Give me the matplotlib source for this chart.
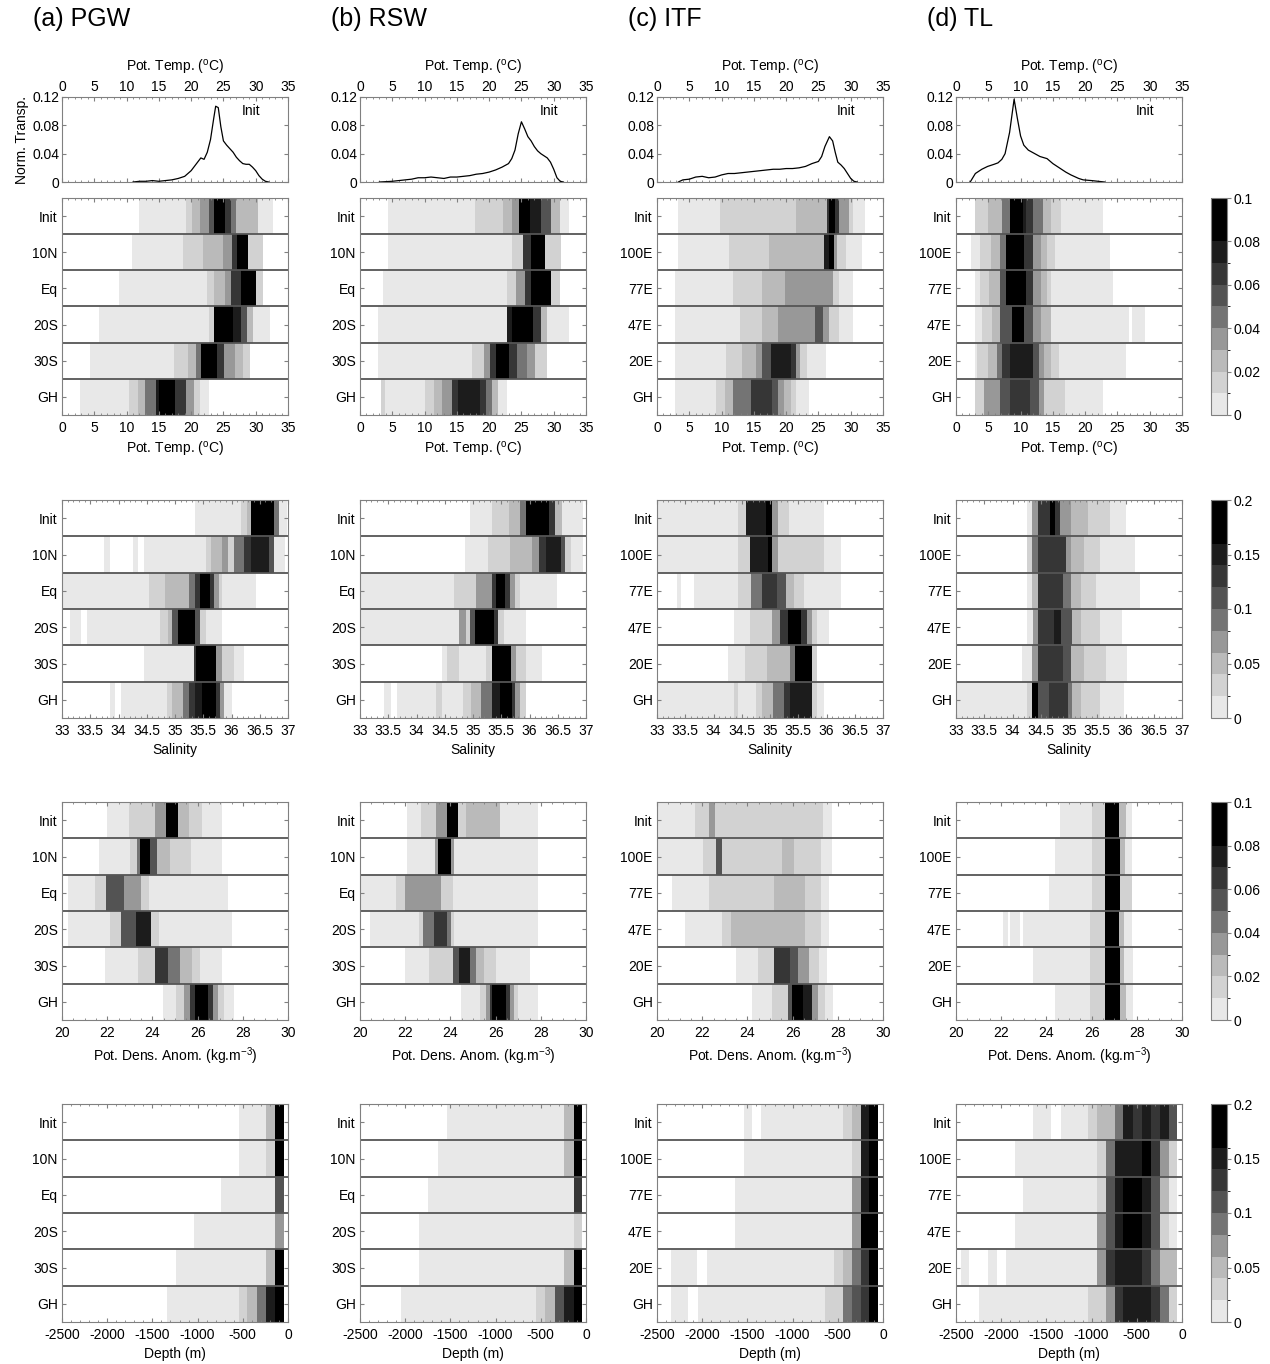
import numpy as np
import matplotlib
matplotlib.use('Agg')
import matplotlib.pyplot as plt
from matplotlib.colors import ListedColormap, BoundaryNorm
from matplotlib.cm import ScalarMappable
from matplotlib.ticker import MultipleLocator

plt.rcParams['font.family'] = ['Liberation Sans', 'DejaVu Sans']
plt.rcParams['mathtext.fontset'] = 'custom'
plt.rcParams['mathtext.rm'] = 'Liberation Sans'
plt.rcParams['mathtext.it'] = 'Liberation Sans:italic'
plt.rcParams['axes.unicode_minus'] = False

N = float('nan')

# ---------------- data ----------------
TITLES = ['(a) PGW', '(b) RSW', '(c) ITF', '(d) TL']
ROWS_PGW = ['Init', '10N', 'Eq', '20S', '30S', 'GH']
ROWS_ITF = ['Init', '100E', '77E', '47E', '20E', 'GH']

# Init normalized transport vs potential temperature (top line plots)
PGW_LINE_T = [11, 12, 13, 14, 15, 16, 17, 18, 19, 19.5, 20, 20.5, 21, 21.5, 22, 22.5, 23, 23.5, 23.8,
              24.2, 24.6, 25, 25.5, 26, 26.5, 27, 27.5, 28, 28.5, 29, 29.5, 30, 30.5, 31, 31.5, 32]
PGW_LINE_V = [0, 0.001, 0.001, 0.002, 0.001, 0.002, 0.003, 0.005, 0.008, 0.012, 0.016, 0.022, 0.028,
              0.034, 0.032, 0.042, 0.06, 0.09, 0.107, 0.105, 0.078, 0.058, 0.052, 0.047, 0.042, 0.035,
              0.03, 0.026, 0.025, 0.025, 0.021, 0.016, 0.009, 0.004, 0.001, 0]
RSW_LINE_T = [3, 4, 5, 6, 7, 8, 9, 10, 11, 12, 13, 14, 15, 16, 17, 18, 19, 20, 21, 22, 23, 23.5, 24,
              24.5, 25, 25.5, 26, 26.5, 27, 27.5, 28, 28.5, 29, 29.5, 30, 30.5, 31, 31.5]
RSW_LINE_V = [0, 0.0005, 0.001, 0.002, 0.003, 0.004, 0.006, 0.006, 0.007, 0.006, 0.005, 0.007, 0.007,
              0.008, 0.009, 0.011, 0.012, 0.014, 0.017, 0.021, 0.026, 0.033, 0.045, 0.068, 0.085,
              0.075, 0.064, 0.058, 0.05, 0.044, 0.04, 0.037, 0.034, 0.028, 0.018, 0.006, 0.001, 0]
ITF_LINE_T = [3.3, 4, 5, 6, 7, 8, 9, 10, 11, 12, 13, 14, 15, 16, 17, 18, 19, 20, 21, 22, 23, 24, 25,
              25.5, 26, 26.7, 27.2, 27.6, 28, 28.5, 29, 29.5, 30, 30.5, 31]
ITF_LINE_V = [0, 0.003, 0.004, 0.007, 0.008, 0.006, 0.007, 0.01, 0.012, 0.012, 0.013, 0.014, 0.015,
              0.016, 0.017, 0.018, 0.018, 0.019, 0.019, 0.02, 0.022, 0.026, 0.029, 0.036, 0.05, 0.064,
              0.058, 0.042, 0.028, 0.024, 0.019, 0.012, 0.005, 0.001, 0]
TL_LINE_T = [2.2, 3, 4, 4.9, 5.9, 6.5, 7.1, 7.6, 8.3, 9.0, 9.5, 10.0, 10.5, 11.2, 12.2, 13, 14.1, 15,
             16, 17, 17.8, 19, 19.7, 21, 22, 23]
TL_LINE_V = [0, 0.012, 0.018, 0.022, 0.025, 0.027, 0.032, 0.04, 0.07, 0.117, 0.09, 0.065, 0.052, 0.045,
             0.04, 0.036, 0.033, 0.026, 0.02, 0.014, 0.01, 0.005, 0.003, 0.002, 0.001, 0]

# Heatmap rows: (bin edges, normalized transport per bin); NaN = no transport
PGW_TEMP = [
    ([11.9, 19.2, 20.2, 21.4, 22.7, 23.6, 25.2, 26.2, 27.0, 30.3, 32.7], [.005, .015, .025, .035, .055, .09, .065, .045, .025, .005]),
    ([10.9, 18.8, 21.9, 24.9, 26.3, 27.1, 28.8, 31.2], [.005, .015, .025, .035, .065, .09, .015]),
    ([8.8, 22.4, 23.6, 25.2, 26.2, 27.7, 30.0, 31.2], [.005, .015, .025, .035, .065, .09, .015]),
    ([5.8, 22.8, 23.6, 26.5, 27.7, 28.7, 29.6, 32.2], [.005, .015, .09, .075, .055, .025, .005]),
    ([4.4, 17.3, 19.5, 20.7, 21.6, 24.0, 25.1, 26.8, 28.1, 29.1], [.005, .015, .025, .045, .09, .065, .035, .025, .015]),
    ([2.8, 10.4, 11.7, 12.9, 14.5, 15.0, 17.5, 19.2, 20.5, 21.4, 22.7], [.005, .015, .025, .045, .075, .09, .065, .035, .015, .005]),
]
RSW_TEMP = [
    ([4.4, 17.8, 22.2, 23.6, 24.6, 26.4, 28.1, 29.6, 31.0, 32.3], [.005, .015, .025, .035, .09, .075, .055, .025, .005]),
    ([4.4, 23.6, 25.2, 26.5, 28.7, 31.2], [.005, .015, .065, .09, .015]),
    ([3.5, 22.7, 24.1, 25.5, 26.5, 29.6, 31.0], [.005, .015, .035, .065, .09, .015]),
    ([2.8, 22.7, 23.6, 26.8, 28.1, 28.9, 32.3], [.005, .075, .09, .065, .025, .005]),
    ([2.8, 17.3, 19.2, 20.2, 21.1, 23.0, 24.3, 25.9, 27.1, 29.0], [.005, .015, .035, .065, .09, .065, .045, .035, .015]),
    ([3.2, 3.8, 10.1, 11.4, 12.7, 14.2, 15.1, 18.6, 19.5, 20.5, 21.4, 22.7], [.015, .005, .015, .025, .035, .065, .075, .065, .045, .025, .005]),
]
ITF_TEMP = [
    ([3.3, 9.7, 21.6, 26.3, 26.7, 27.6, 28.2, 29.8, 30.3, 32.2], [.005, .015, .025, .065, .09, .065, .035, .015, .005]),
    ([3.3, 11.2, 17.3, 25.9, 26.7, 27.4, 27.9, 29.2, 31.7], [.005, .015, .025, .075, .09, .035, .015, .005]),
    ([2.8, 11.8, 16.2, 19.8, 27.3, 28.2, 30.3], [.005, .015, .025, .035, .015, .005]),
    ([2.8, 12.8, 16.2, 18.8, 24.4, 25.7, 26.7, 28.2, 30.3], [.005, .015, .025, .035, .055, .035, .015, .005]),
    ([2.8, 10.7, 13.1, 15.3, 16.2, 17.7, 20.7, 21.5, 22.1, 23.2, 26.2], [.005, .015, .025, .035, .055, .075, .065, .035, .015, .005]),
    ([2.8, 9.1, 10.5, 11.8, 14.5, 17.8, 18.8, 19.7, 20.7, 21.6, 23.5], [.005, .015, .025, .045, .065, .055, .035, .025, .015, .005]),
]
TL_TEMP = [
    ([3.0, 4.9, 7.1, 8.4, 10.3, 10.8, 11.9, 13.4, 14.7, 16.3, 22.8], [.015, .025, .045, .09, .075, .065, .045, .025, .015, .005]),
    ([2.4, 3.7, 5.4, 6.8, 7.8, 10.6, 11.9, 13.2, 14.1, 15.3, 23.8], [.005, .015, .025, .045, .09, .065, .035, .025, .015, .005]),
    ([3.0, 3.7, 5.1, 6.8, 7.8, 10.8, 11.9, 13.2, 14.1, 14.7, 24.3], [.005, .015, .025, .055, .09, .065, .035, .025, .015, .005]),
    ([3.0, 4.0, 5.5, 6.8, 8.7, 10.6, 11.9, 13.2, 14.7, 26.8, 27.3, 29.3], [.005, .015, .025, .055, .09, .055, .035, .025, .005, N, .005]),
    ([3.0, 3.3, 4.9, 6.3, 7.1, 8.4, 11.9, 12.8, 13.7, 14.7, 16.0, 26.4], [.005, .015, .025, .045, .065, .075, .055, .035, .025, .015, .005]),
    ([3.0, 4.3, 6.8, 8.4, 11.5, 12.8, 13.7, 16.9, 22.8], [.015, .035, .055, .065, .055, .035, .015, .005]),
]

PGW_SAL = [
    ([35.36, 36.16, 36.27, 36.34, 36.75, 36.84, 36.99], [.01, .03, .05, .18, .09, .01]),
    ([33.75, 33.85, 34.26, 34.35, 34.45, 35.55, 35.64, 35.84, 35.94, 36.04, 36.23, 36.34, 36.66, 36.75, 36.95],
     [.01, N, .01, N, .01, .03, .05, .07, .03, .09, .13, .15, .11, .01]),
    ([33.0, 34.54, 34.83, 35.24, 35.36, 35.44, 35.62, 35.69, 35.77, 35.84, 36.43], [.01, .03, .05, .09, .13, .18, .13, .07, .03, .01]),
    ([33.14, 33.34, 33.45, 34.74, 34.87, 34.94, 35.05, 35.36, 35.44, 35.55, 35.84], [.01, N, .01, .03, .05, .11, .18, .11, .03, .01]),
    ([34.45, 35.33, 35.37, 35.73, 35.84, 36.05, 36.23], [.01, .13, .18, .07, .03, .01]),
    ([33.85, 33.93, 34.05, 34.85, 34.95, 35.15, 35.24, 35.36, 35.48, 35.73, 35.80, 35.87, 36.0],
     [.01, N, .01, .03, .05, .09, .13, .15, .18, .13, .07, .01]),
]
RSW_SAL = [
    ([34.95, 35.33, 35.64, 35.84, 35.94, 36.34, 36.45, 36.58, 36.95], [.01, .03, .05, .09, .18, .13, .05, .01]),
    ([34.85, 35.26, 35.66, 36.05, 36.16, 36.30, 36.55, 36.62, 36.73, 36.95], [.01, .03, .05, .07, .13, .15, .11, .03, .01]),
    ([33.0, 34.67, 35.05, 35.33, 35.41, 35.57, 35.66, 35.75, 35.84, 36.48], [.01, .03, .07, .13, .18, .13, .07, .03, .01]),
    ([33.0, 34.76, 34.87, 34.94, 35.03, 35.37, 35.44, 35.55, 35.94], [.01, .07, .03, .11, .18, .13, .03, .01]),
    ([34.45, 34.54, 34.76, 35.23, 35.33, 35.67, 35.76, 35.94, 36.23], [.01, .03, .01, .03, .18, .07, .03, .01]),
    ([33.43, 33.54, 33.65, 34.35, 34.45, 34.83, 34.97, 35.15, 35.33, 35.48, 35.69, 35.74, 35.84, 35.94],
     [.01, N, .01, .03, .01, .03, .05, .09, .15, .18, .13, .07, .03]),
]
ITF_SAL = [
    ([33.0, 34.44, 34.57, 34.93, 35.04, 35.14, 35.34, 35.96], [.01, .03, .15, .18, .07, .03, .01]),
    ([33.0, 34.44, 34.65, 34.97, 35.04, 35.14, 35.96, 36.25], [.01, .03, .15, .18, .07, .03, .01]),
    ([33.36, 33.43, 33.66, 34.44, 34.66, 34.86, 35.12, 35.29, 35.43, 35.61, 36.25], [.01, N, .01, .03, .09, .13, .11, .05, .03, .01]),
    ([34.37, 34.64, 35.04, 35.17, 35.32, 35.54, 35.65, 35.74, 35.83, 36.05], [.01, .03, .07, .13, .18, .13, .07, .03, .01]),
    ([34.26, 34.55, 34.95, 35.36, 35.45, 35.74, 35.83], [.01, .03, .05, .09, .18, .03]),
    ([33.0, 34.37, 34.44, 34.75, 34.86, 35.05, 35.24, 35.36, 35.74, 35.83, 35.96], [.01, .03, .01, .03, .05, .09, .13, .15, .03, .01]),
]
TL_SAL = [
    ([34.26, 34.35, 34.46, 34.66, 34.75, 34.84, 35.04, 35.33, 35.72, 36.01], [.01, .07, .13, .18, .13, .07, .05, .03, .01]),
    ([34.25, 34.35, 34.46, 34.95, 35.04, 35.26, 35.54, 36.16], [.03, .09, .13, .07, .05, .03, .01]),
    ([34.26, 34.35, 34.46, 34.9, 35.04, 35.22, 35.47, 36.25], [.01, .05, .13, .09, .05, .03, .01]),
    ([34.26, 34.37, 34.46, 34.74, 34.86, 35.05, 35.22, 35.54, 35.94], [.01, .07, .13, .15, .11, .05, .03, .01]),
    ([34.16, 34.35, 34.46, 34.9, 35.04, 35.26, 35.65, 36.03], [.01, .07, .13, .11, .05, .03, .01]),
    ([33.0, 34.25, 34.35, 34.45, 34.64, 34.98, 35.05, 35.22, 35.54, 35.98], [.01, .03, .18, .11, .13, .09, .05, .03, .01]),
]

PGW_DENS = [
    ([21.97, 22.96, 24.13, 24.58, 25.12, 25.6, 26.2, 27.1], [.005, .015, .035, .09, .025, .015, .005]),
    ([21.65, 23.0, 23.3, 23.45, 23.91, 24.2, 24.8, 25.7, 27.1], [.005, .015, .045, .09, .055, .025, .015, .005]),
    ([20.27, 21.44, 21.94, 22.73, 23.5, 23.86, 27.33], [.005, .015, .055, .035, .015, .005]),
    ([20.27, 22.12, 22.6, 23.27, 23.95, 24.3, 27.5], [.005, .015, .055, .075, .015, .005]),
    ([21.9, 23.37, 24.13, 24.7, 25.2, 25.75, 26.1, 27.1], [.005, .015, .065, .045, .025, .015, .005]),
    ([24.45, 25.03, 25.39, 25.66, 25.89, 26.46, 26.68, 26.91, 27.18, 27.6], [.005, .015, .035, .065, .09, .065, .035, .015, .005]),
]
RSW_DENS = [
    ([22.06, 22.69, 23.37, 23.86, 24.34, 24.67, 26.19, 27.86], [.005, .015, .035, .09, .015, .025, .005]),
    ([22.06, 23.32, 23.45, 24.04, 24.16, 27.86], [.005, .035, .09, .035, .005]),
    ([20.0, 21.6, 21.97, 23.59, 24.13, 27.86], [.005, .015, .035, .015, .005]),
    ([20.45, 22.6, 22.78, 23.27, 23.86, 24.04, 24.16, 27.86], [.005, .015, .045, .065, .045, .015, .005]),
    ([21.97, 23.05, 24.13, 24.4, 24.85, 25.12, 25.48, 26.0, 27.5], [.005, .015, .055, .075, .045, .025, .015, .005]),
    ([24.49, 25.3, 25.57, 25.75, 25.84, 26.46, 26.64, 26.82, 27.0, 27.86], [.005, .015, .035, .065, .09, .065, .035, .015, .005]),
]
ITF_DENS = [
    ([20.0, 21.66, 22.29, 22.56, 27.35, 27.76], [.005, .015, .035, .015, .005]),
    ([20.0, 22.02, 22.6, 22.89, 25.54, 26.08, 27.26, 27.76], [.005, .015, .055, .015, .025, .015, .005]),
    ([20.67, 22.29, 25.18, 26.53, 27.26, 27.62], [.005, .015, .025, .015, .005]),
    ([21.26, 22.89, 23.29, 26.53, 27.26, 27.62], [.005, .015, .025, .015, .005]),
    ([23.5, 24.46, 25.18, 25.9, 26.26, 26.71, 27.17, 27.53], [.005, .015, .065, .055, .035, .015, .005]),
    ([24.19, 25.09, 25.81, 25.99, 26.44, 26.86, 27.11, 27.44, 27.8], [.005, .015, .055, .09, .075, .035, .015, .005]),
]
TL_DENS = [
    ([24.59, 26.0, 26.58, 27.23, 27.53, 27.8], [.005, .015, .09, .025, .005]),
    ([24.38, 26.0, 26.58, 27.26, 27.48, 27.77], [.005, .015, .09, .025, .005]),
    ([24.1, 26.0, 26.58, 27.26, 27.8], [.005, .015, .09, .015]),
    ([22.07, 22.3, 22.39, 22.84, 22.97, 25.91, 26.58, 27.23, 27.44, 27.77], [.005, N, .005, N, .005, .015, .09, .025, .005]),
    ([23.39, 25.91, 26.58, 27.26, 27.44, 27.84], [.005, .015, .09, .025, .005]),
    ([24.38, 25.91, 26.58, 27.26, 27.53, 27.84], [.005, .015, .09, .025, .005]),
]

PGW_DEPTH = [
    ([-540, -248, -149, -45], [.01, .05, .18]),
    ([-540, -248, -149, -45], [.01, .03, .18]),
    ([-743, -149, -45], [.01, .11]),
    ([-1036, -149, -45], [.01, .07]),
    ([-1239, -248, -149, -45], [.01, .05, .18]),
    ([-1338, -540, -450, -347, -248, -149, -45], [.01, .03, .05, .09, .15, .18]),
]
RSW_DEPTH = [
    ([-1541, -248, -135, -45], [.01, .05, .18]),
    ([-1635, -248, -135, -45], [.01, .05, .18]),
    ([-1743, -135, -45], [.01, .13]),
    ([-1847, -135, -45], [.01, .03]),
    ([-1847, -248, -135, -45], [.01, .05, .18]),
    ([-2050, -554, -450, -347, -248, -135, -45], [.01, .03, .05, .11, .15, .18]),
]
ITF_DEPTH = [
    ([-1542, -1454, -1347, -437, -345, -246, -154, -51], [.01, N, .01, .03, .05, .15, .18]),
    ([-1542, -345, -246, -154, -51], [.01, .03, .15, .18]),
    ([-1637, -345, -246, -154, -51], [.01, .07, .15, .18]),
    ([-1637, -345, -246, -51], [.01, .07, .18]),
    ([-2350, -2052, -1946, -547, -437, -345, -246, -154, -51], [.01, N, .01, .03, .05, .09, .13, .18]),
    ([-2350, -2155, -2041, -642, -448, -345, -246, -154, -51], [.01, N, .01, .03, .09, .11, .13, .18]),
]
TL_DEPTH = [
    ([-1645, -1449, -1342, -1036, -944, -741, -649, -538, -446, -347, -243, -140, -52],
     [.01, N, .01, .03, .05, .09, .15, .13, .15, .13, .15, .11]),
    ([-1847, -944, -844, -741, -446, -347, -243, -140, -52], [.01, .03, .09, .15, .18, .13, .07, .03]),
    ([-1755, -944, -844, -741, -649, -446, -347, -243, -140, -52], [.01, .03, .11, .15, .18, .15, .11, .05, .01]),
    ([-1847, -944, -844, -741, -649, -446, -347, -243, -140, -52], [.01, .07, .11, .15, .18, .15, .11, .03, .01]),
    ([-2448, -2352, -2150, -2050, -1951, -944, -844, -741, -446, -347, -243, -140, -52],
     [.01, N, .01, N, .01, .07, .13, .15, .13, .09, .05, .05]),
    ([-2242, -1036, -844, -741, -649, -347, -243, -140, -52], [.01, .03, .07, .13, .15, .13, .09, .03]),
]

BOUNDS_01 = [0, .01, .02, .03, .04, .05, .06, .07, .08, .10]
BOUNDS_02 = [0, .02, .04, .06, .08, .10, .12, .14, .16, .20]
CB_TICKS_01 = [0, 0.02, 0.04, 0.06, 0.08, 0.1]
CB_TICKS_02 = [0, 0.05, 0.1, 0.15, 0.2]

# ---------------- styling ----------------
GRAYS = ['#e8e8e8', '#d2d2d2', '#bababa', '#989898', '#747474', '#535353', '#363636', '#1c1c1c', '#000000']
cmap = ListedColormap(GRAYS)
SPINE = '#808080'

W, H = 1270, 1364
fig = plt.figure(figsize=(W / 100, H / 100), dpi=100)
fig.patch.set_facecolor('white')


def rect(x0, y0, x1, y1):
    return [x0 / W, 1 - y1 / H, (x1 - x0) / W, (y1 - y0) / H]


COL_X = [62, 360, 657, 956]
COL_W = 226
LINE_Y = (97, 182)
HEAT_Y = [(198, 415), (500, 718), (802, 1020), (1104, 1322)]
CB_X = (1211, 1227)

VARS = [
    dict(xlim=(0, 35), minor=1, label='Pot. Temp. ($^{\\rm o}$C)', bounds=BOUNDS_01, ticks=CB_TICKS_01,
         ticklabels=[str(v) for v in range(0, 40, 5)], tickvals=list(range(0, 40, 5))),
    dict(xlim=(33, 37), minor=0.1, label='Salinity', bounds=BOUNDS_02, ticks=CB_TICKS_02,
         tickvals=[33, 33.5, 34, 34.5, 35, 35.5, 36, 36.5, 37],
         ticklabels=['33', '33.5', '34', '34.5', '35', '35.5', '36', '36.5', '37']),
    dict(xlim=(20, 30), minor=0.5, label='Pot. Dens. Anom. (kg.m$^{-3}$)', bounds=BOUNDS_01, ticks=CB_TICKS_01,
         tickvals=[20, 22, 24, 26, 28, 30], ticklabels=['20', '22', '24', '26', '28', '30']),
    dict(xlim=(-2500, 0), minor=100, label='Depth (m)', bounds=BOUNDS_02, ticks=CB_TICKS_02,
         tickvals=[-2500, -2000, -1500, -1000, -500, 0],
         ticklabels=['-2500', '-2000', '-1500', '-1000', '-500', '0']),
]

COLUMNS = [
    (PGW_LINE_T, PGW_LINE_V, [PGW_TEMP, PGW_SAL, PGW_DENS, PGW_DEPTH], ROWS_PGW),
    (RSW_LINE_T, RSW_LINE_V, [RSW_TEMP, RSW_SAL, RSW_DENS, RSW_DEPTH], ROWS_PGW),
    (ITF_LINE_T, ITF_LINE_V, [ITF_TEMP, ITF_SAL, ITF_DENS, ITF_DEPTH], ROWS_ITF),
    (TL_LINE_T, TL_LINE_V, [TL_TEMP, TL_SAL, TL_DENS, TL_DEPTH], ROWS_ITF),
]

FS = 10


def style_spines(ax):
    for s in ax.spines.values():
        s.set_color(SPINE)
        s.set_linewidth(0.8)


for c, (lt, lv, panels, rowlabels) in enumerate(COLUMNS):
    x0 = COL_X[c]
    fig.text((x0 - 29) / W, 1 - 19 / H, TITLES[c], fontsize=18, va='center', ha='left')

    # top line plot
    ax = fig.add_axes(rect(x0, LINE_Y[0], x0 + COL_W, LINE_Y[1]))
    ax.plot(lt, lv, color='black', lw=0.9)
    ax.set_xlim(0, 35)
    ax.set_ylim(0, 0.12)
    ax.xaxis.tick_top()
    ax.xaxis.set_label_position('top')
    ax.set_xticks(range(0, 40, 5))
    ax.xaxis.set_minor_locator(MultipleLocator(1))
    ax.set_yticks([0, 0.04, 0.08, 0.12])
    ax.set_yticklabels(['0', '0.04', '0.08', '0.12'])
    ax.tick_params(axis='x', which='both', direction='in', top=True, bottom=True, colors=SPINE,
                   labelcolor='black', labelsize=FS, pad=2)
    ax.tick_params(axis='x', which='major', length=3)
    ax.tick_params(axis='x', which='minor', length=1.5)
    ax.tick_params(axis='y', which='major', direction='in', left=True, right=True, length=3, colors=SPINE,
                   labelcolor='black', labelsize=FS, pad=2)
    ax.set_xlabel('Pot. Temp. ($^{\\rm o}$C)', fontsize=FS, labelpad=6)
    if c == 0:
        ax.set_ylabel('Norm. Transp.', fontsize=FS, labelpad=2)
    ax.text(29.3, 0.1, 'Init', fontsize=FS, ha='center', va='center')
    style_spines(ax)

    # heatmaps
    for r, (rows, var) in enumerate(zip(panels, VARS)):
        y0, y1 = HEAT_Y[r]
        ax = fig.add_axes(rect(x0, y0, x0 + COL_W, y1))
        norm = BoundaryNorm(var['bounds'], cmap.N)
        for i, (edges, vals) in enumerate(rows):
            z = np.ma.masked_invalid(np.array([vals], dtype=float))
            ax.pcolormesh(np.array(edges, dtype=float), [i, i + 1], z, cmap=cmap, norm=norm,
                          shading='flat', edgecolors='none', antialiased=False)
        for i in range(1, 6):
            ax.axhline(i, color='#555555', lw=1.3)
        ax.set_xlim(*var['xlim'])
        ax.set_ylim(6, 0)
        ax.set_yticks([i + 0.5 for i in range(6)])
        ax.set_yticklabels(rowlabels)
        ax.set_xticks(var['tickvals'])
        ax.set_xticklabels(var['ticklabels'])
        ax.xaxis.set_minor_locator(MultipleLocator(var['minor']))
        ax.tick_params(axis='x', which='both', direction='in', top=True, bottom=True, colors=SPINE,
                       labelcolor='black', labelsize=FS, pad=4)
        ax.tick_params(axis='x', which='major', length=3)
        ax.tick_params(axis='x', which='minor', length=1.5)
        ax.tick_params(axis='y', direction='in', left=True, right=True, length=3, colors=SPINE,
                       labelcolor='black', labelsize=FS, pad=3)
        ax.set_xlabel(var['label'], fontsize=FS, labelpad=4)
        style_spines(ax)

        if c == 3:
            cax = fig.add_axes(rect(CB_X[0], y0, CB_X[1], y1))
            sm = ScalarMappable(norm=norm, cmap=cmap)
            cb = fig.colorbar(sm, cax=cax, spacing='proportional', ticks=var['ticks'],
                              boundaries=var['bounds'])
            cb.ax.set_yticklabels([f'{t:g}' for t in var['ticks']])
            cb.ax.tick_params(labelsize=FS, length=3, colors=SPINE, labelcolor='black', pad=2)
            cb.outline.set_edgecolor(SPINE)
            cb.outline.set_linewidth(0.8)

fig.savefig('out.png', dpi=100, facecolor='white')
